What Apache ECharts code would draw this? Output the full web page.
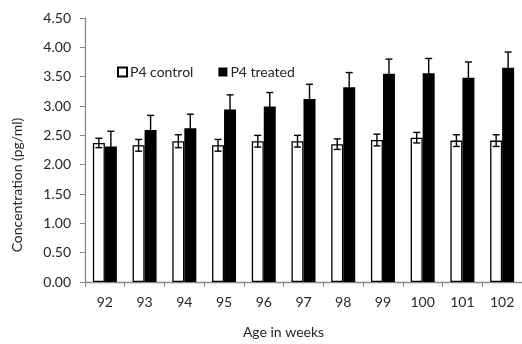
<!DOCTYPE html>
<html>
<head>
<meta charset="utf-8">
<script src="https://cdn.jsdelivr.net/npm/echarts@6/dist/echarts.min.js"></script>
<style>
  html, body { margin: 0; padding: 0; background: #fff; }
  #chart { width: 522px; height: 344px; }
</style>
</head>
<body>
<div id="chart"></div>
<script>
// age in weeks
var weeks = ['92', '93', '94', '95', '96', '97', '98', '99', '100', '101', '102']
// mean concentration (pg/ml)
var controlVals = [2.37, 2.33, 2.40, 2.33, 2.40, 2.40, 2.35, 2.42, 2.46, 2.41, 2.41]
var treatedVals = [2.31, 2.59, 2.62, 2.94, 2.99, 3.12, 3.32, 3.55, 3.56, 3.48, 3.65]
// error (SE)
var controlErr = [0.08, 0.10, 0.11, 0.10, 0.10, 0.10, 0.09, 0.10, 0.09, 0.10, 0.10]
var treatedErr = [0.26, 0.25, 0.24, 0.25, 0.24, 0.25, 0.25, 0.25, 0.25, 0.27, 0.27]
var yTicks = ['0.00', '0.50', '1.00', '1.50', '2.00', '2.50', '3.00', '3.50', '4.00', '4.50']

var BAR_W = 12
var FONT = 'Lato'
var TXT = '#262626'

function errorSeries(vals, errs, side) {
  return {
    type: 'custom',
    silent: true,
    z: 10,
    data: vals.map(function (v, i) { return [i, v - errs[i], v + errs[i]] }),
    renderItem: function (params, api) {
      var lo = api.coord([api.value(0), api.value(1)])
      var hi = api.coord([api.value(0), api.value(2)])
      var x = lo[0] + side * BAR_W / 2
      var cap = 3.5
      var style = { stroke: '#000', lineWidth: 1.4 }
      return {
        type: 'group',
        children: [
          { type: 'line', shape: { x1: x, y1: lo[1], x2: x, y2: hi[1] }, style: style },
          { type: 'line', shape: { x1: x - cap, y1: hi[1], x2: x + cap, y2: hi[1] }, style: style },
          { type: 'line', shape: { x1: x - cap, y1: lo[1], x2: x + cap, y2: lo[1] }, style: style }
        ]
      }
    }
  }
}

var chart = echarts.init(document.getElementById('chart'))
chart.setOption({
  animation: false,
  backgroundColor: '#fff',
  textStyle: { fontFamily: FONT },
  grid: { left: 85, top: 18, right: -3, bottom: 57, containLabel: false },
  legend: {
    left: 112,
    top: 60,
    icon: 'rect',
    itemWidth: 9,
    itemHeight: 9,
    itemGap: 25,
    data: ['P4 control', 'P4 treated'],
    textStyle: { fontFamily: FONT, fontSize: 14, color: TXT, padding: [0, 0, 0, -2] }
  },
  xAxis: {
    type: 'category',
    data: weeks,
    name: 'Age in weeks',
    nameLocation: 'middle',
    nameGap: 43,
    nameTextStyle: { fontFamily: FONT, fontSize: 14, color: TXT, padding: [0, 40, 0, 0] },
    axisLine: { lineStyle: { color: '#8a8a8a', width: 1.3 } },
    axisTick: { show: true, length: 5, lineStyle: { color: '#8a8a8a' } },
    axisLabel: { fontFamily: FONT, fontSize: 14, color: TXT, margin: 13 }
  },
  yAxis: {
    type: 'value',
    min: 0,
    max: 4.5,
    interval: 0.5,
    name: 'Concentration (pg/ml)',
    nameLocation: 'middle',
    nameGap: 61,
    nameTextStyle: { fontFamily: FONT, fontSize: 14, color: TXT, padding: [0, 70, 0, 0] },
    splitLine: { show: false },
    axisLine: { show: true, lineStyle: { color: '#8a8a8a', width: 1.3 } },
    axisTick: { show: true, length: 5, lineStyle: { color: '#8a8a8a' } },
    axisLabel: {
      fontFamily: FONT, fontSize: 14, color: TXT, margin: 14,
      formatter: function (v) { return yTicks[Math.round(v / 0.5)] }
    }
  },
  series: [
    {
      name: 'P4 control',
      type: 'bar',
      barWidth: BAR_W,
      barGap: '0%',
      data: controlVals,
      itemStyle: { color: '#fff', borderColor: '#000', borderWidth: 1.3 }
    },
    {
      name: 'P4 treated',
      type: 'bar',
      barWidth: BAR_W,
      barGap: '0%',
      data: treatedVals,
      itemStyle: { color: '#000' }
    },
    errorSeries(controlVals, controlErr, -1),
    errorSeries(treatedVals, treatedErr, 1)
  ]
})
</script>
</body>
</html>
